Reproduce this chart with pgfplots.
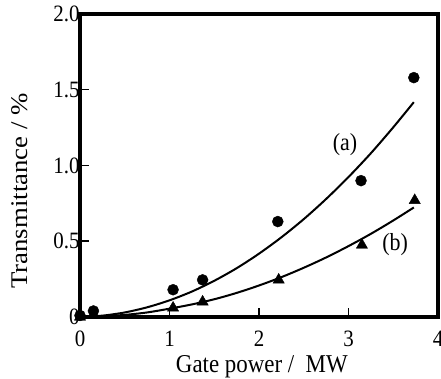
\documentclass[border=0pt]{standalone}
\usepackage{pgfplots}
\pgfplotsset{compat=1.18}
\usepackage{graphicx}
\usepackage{fontspec}
\setmainfont{Liberation Serif}
\newcommand{\vs}[1]{\scalebox{1}[1.12]{#1}}
\begin{document}
\begin{tikzpicture}
\begin{axis}[name=ax, width=358bp, height=303bp, scale only axis,
  xmin=0, xmax=4, ymin=0, ymax=2,
  axis line style={line width=3.5bp},
  xtick={0,1,2,3,4}, xticklabels={\vs{0},\vs{1},\vs{2},\vs{3},\vs{4}},
  ytick={0,0.5,1,1.5,2}, yticklabels={\vs{0},\vs{0.5},\vs{1.0},\vs{1.5},\vs{2.0}},
  tick align=inside, tick pos=left, major tick length=9bp,
  tick style={line width=1.5bp, black},
  /pgf/number format/assume math mode=true,
  xticklabel style={font=\fontsize{21}{23}\selectfont, inner sep=0pt, yshift=-14bp},
  yticklabel style={font=\fontsize{21}{23}\selectfont, xshift=3bp},
  xlabel={\vs{Gate power /\ \ MW}}, ylabel={\scalebox{1.12}[1]{Transmittance / \%}},
  xlabel style={font=\fontsize{23}{25}\selectfont, inner sep=0pt, at={(axis description cs:0.508,-0.165)}, anchor=center},
  ylabel style={font=\fontsize{24}{26}\selectfont, at={(axis description cs:-0.168,0.416)}, anchor=center},
  clip=false]
% curve (a)
\addplot[black, line width=2bp, smooth] coordinates {
(0.03,0.003) (0.25,0.009) (0.5,0.030) (0.75,0.064) (1.0,0.110) (1.25,0.168) (1.5,0.239)
(1.75,0.322) (2.0,0.418) (2.25,0.526) (2.5,0.646) (2.75,0.779) (3.0,0.924)
(3.25,1.081) (3.5,1.252) (3.73,1.418)};
% curve (b)
\addplot[black, line width=2bp, smooth] coordinates {
(0.03,0.001) (0.25,0.004) (0.5,0.014) (0.75,0.030) (1.0,0.055) (1.25,0.083) (1.5,0.117)
(1.75,0.159) (2.0,0.208) (2.25,0.263) (2.5,0.325) (2.75,0.393) (3.0,0.468)
(3.25,0.549) (3.5,0.637) (3.73,0.723)};
% data (a)
\addplot[only marks, mark=*, mark size=5.5bp, black] coordinates {
(0,0.01) (0.15,0.04) (1.04,0.18) (1.37,0.245) (2.21,0.63) (3.14,0.90) (3.73,1.58)};
% data (b)
\addplot[only marks, mark=triangle*, mark size=6.5bp, black] coordinates {
(0,0.0) (1.04,0.06) (1.37,0.10) (2.22,0.245) (3.15,0.475) (3.74,0.77)};
\node[font=\fontsize{22}{24}\selectfont] at (axis cs:2.96,1.14) {\vs{(a)}};
\node[font=\fontsize{22}{24}\selectfont] at (axis cs:3.52,0.475) {\vs{(b)}};
\end{axis}
\pgfresetboundingbox
\path[use as bounding box] ([shift={(-80bp,-62bp)}]ax.south west) rectangle ([shift={(3bp,14bp)}]ax.north east);
\end{tikzpicture}
\end{document}
